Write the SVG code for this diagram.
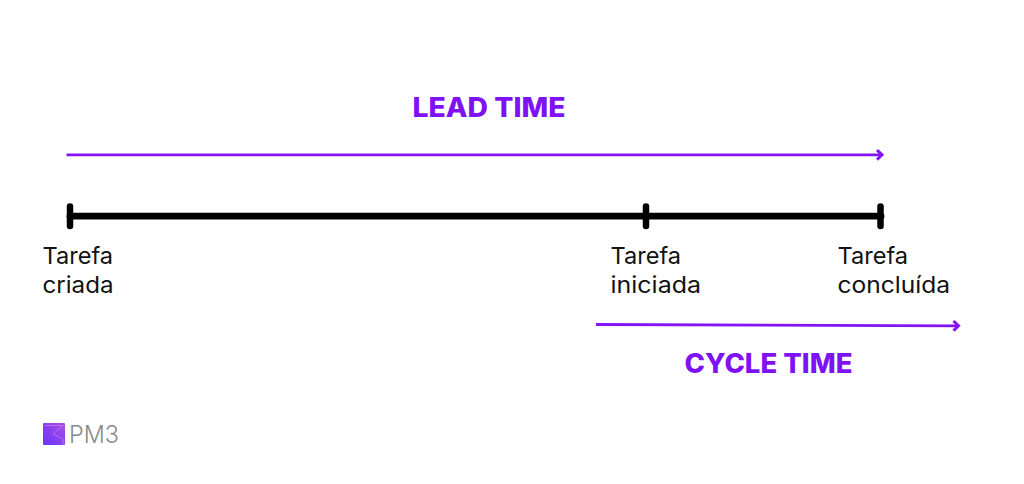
<svg xmlns="http://www.w3.org/2000/svg" width="1024" height="484" viewBox="0 0 1024 484">
<defs>
<style>
.lbl{font-family:"Inter","Liberation Sans",sans-serif;font-size:23px;fill:#111}
.ttl{font-family:"Inter","Liberation Sans",sans-serif;font-size:27px;font-weight:800;fill:#7f12f5}
.bar{stroke:#000;stroke-linecap:round;fill:none}
.arr{stroke:#8414f5;stroke-width:2.800;fill:none}
.head{stroke:#8414f5;stroke-width:3;fill:none}
</style>
<linearGradient id="lg" x1="0" y1="1" x2="1" y2="0"><stop offset="0" stop-color="#6a32ff"/><stop offset="1" stop-color="#a850e0"/></linearGradient>
</defs>
<rect width="1024" height="484" fill="#fff"/>
<g id="connectors">
<path class="arr" d="M66.500 154.800H882"/>
<path class="head" d="M877 150L882 154.800L877 159.600"/>
<path class="arr" d="M596 324.500L958.500 325.800"/>
<path class="head" d="M953.500 321L958.500 325.800L953.500 330.600"/>
<path class="bar" stroke-width="6.800" d="M70 216.200H881" stroke-linecap="butt"/>
</g>
<g id="tick-criada"><path class="bar" stroke-width="6.500" d="M70 206.500V226"/></g>
<g id="tick-iniciada"><path class="bar" stroke-width="6.500" d="M646 206.500V226"/></g>
<g id="tick-concluida"><path class="bar" stroke-width="6.500" d="M880.500 206.500V226"/></g>
<g id="lead-time"><text class="ttl" x="412.500" y="117" textLength="153" lengthAdjust="spacingAndGlyphs">LEAD TIME</text></g>
<g id="cycle-time"><text class="ttl" x="684.500" y="373" textLength="168" lengthAdjust="spacingAndGlyphs">CYCLE TIME</text></g>
<g id="node-criada"><text class="lbl" x="42.500" y="264" textLength="70.500" lengthAdjust="spacingAndGlyphs">Tarefa</text><text class="lbl" x="42.500" y="293" textLength="71" lengthAdjust="spacingAndGlyphs">criada</text></g>
<g id="node-iniciada"><text class="lbl" x="610.500" y="264" textLength="70.500" lengthAdjust="spacingAndGlyphs">Tarefa</text><text class="lbl" x="610.500" y="293" textLength="90.500" lengthAdjust="spacingAndGlyphs">iniciada</text></g>
<g id="node-concluida"><text class="lbl" x="837.500" y="264" textLength="70.500" lengthAdjust="spacingAndGlyphs">Tarefa</text><text class="lbl" x="837.500" y="293" textLength="112.500" lengthAdjust="spacingAndGlyphs">concluída</text></g>
<g id="logo">
<rect x="43" y="423" width="22" height="22" rx="1" fill="url(#lg)"/>
<path d="M45 425.500H63L53 434L63 439V445" fill="none" stroke="#d080e8" stroke-width="0.700"/>
<text x="69" y="443" font-family="'Inter','Liberation Sans',sans-serif" font-size="24" font-weight="300" fill="#8a8a8a" textLength="50" lengthAdjust="spacingAndGlyphs">PM3</text>
</g>
</svg>
